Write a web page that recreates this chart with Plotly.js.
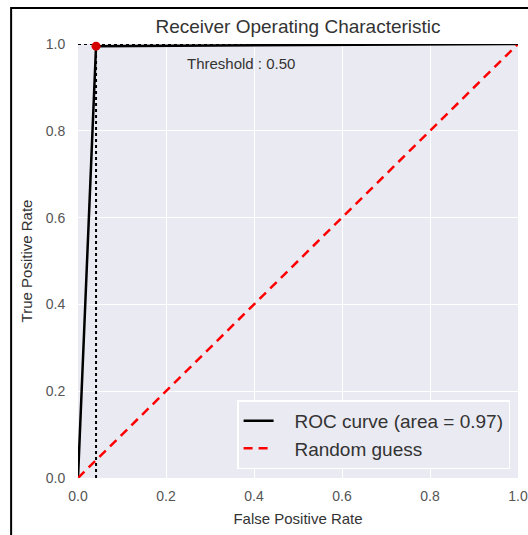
<!DOCTYPE html>
<html>
<head>
<meta charset="utf-8">
<script src="https://cdn.plot.ly/plotly-3.0.1.min.js"></script>
<style>html,body{margin:0;padding:0;background:#fff;}#chart{width:528px;height:535px;}</style>
</head>
<body>
<div id="chart"></div>
<script>
// ROC curve points
const fpr = [0.0, 0.041, 1.0];
const tpr = [0.0, 0.995, 1.0];
const rocArea = 0.97;
// Random guess diagonal
const guessX = [0.0, 1.0];
const guessY = [0.0, 1.0];
// Operating point at the chosen threshold
const threshold = 0.50;
const pointFpr = [0.041];
const pointTpr = [0.995];
const tickVals = [0.0, 0.2, 0.4, 0.6, 0.8, 1.0];

const font = "Liberation Sans, Arial, sans-serif";
const pad = '\u00a0\u00a0\u00a0';

const traces = [
  {x: fpr, y: tpr, mode: 'lines', name: pad + 'ROC curve (area = ' + rocArea.toFixed(2) + ')',
   line: {color: 'black', width: 2.5}, cliponaxis: false},
  {x: guessX, y: guessY, mode: 'lines', name: pad + 'Random guess',
   line: {color: 'red', width: 2.5, dash: '9px,6px'}, cliponaxis: false},
  {x: [pointFpr[0], pointFpr[0]], y: [0, 1], mode: 'lines', showlegend: false,
   line: {color: 'black', width: 2, dash: 'dot'}, cliponaxis: false},
  {x: [0, 1], y: [1, 1], mode: 'lines', showlegend: false,
   line: {color: 'black', width: 2, dash: 'dot'}, cliponaxis: false},
  {x: pointFpr, y: pointTpr, mode: 'markers', showlegend: false,
   marker: {color: '#d40000', size: 9}, cliponaxis: false}
];

const layout = {
  width: 528, height: 535,
  margin: {l: 78, r: 10, t: 44, b: 57},
  paper_bgcolor: 'white',
  plot_bgcolor: '#EAEAF2',
  font: {family: font, color: '#444'},
  title: {text: 'Receiver Operating Characteristic', font: {size: 19, color: '#333', family: font},
          x: 0.5, xref: 'paper', y: 0.951, yanchor: 'middle'},
  xaxis: {range: [0, 1], tickvals: tickVals, tickformat: '.1f', showgrid: true, gridcolor: 'white',
          gridwidth: 1, zeroline: false, showline: false, ticks: 'outside', ticklen: 5,
          tickcolor: 'rgba(0,0,0,0)',
          tickfont: {size: 14, color: '#555'},
          title: {text: 'False Positive Rate', font: {size: 15, color: '#333'}, standoff: 10}},
  yaxis: {range: [0, 1], tickvals: tickVals, tickformat: '.1f', showgrid: true, gridcolor: 'white',
          gridwidth: 1, zeroline: false, showline: false, ticks: 'outside', ticklen: 9,
          tickcolor: 'rgba(0,0,0,0)',
          tickfont: {size: 14, color: '#555'},
          title: {text: 'True Positive Rate', font: {size: 15, color: '#333'}, standoff: 9}},
  legend: {x: 0.982, y: 0.02, xanchor: 'right', yanchor: 'bottom',
           bgcolor: '#EAEAF2', bordercolor: 'white', borderwidth: 1.5,
           font: {size: 19, color: '#333', family: font}, tracegroupgap: 0},
  annotations: [{x: 0.37, y: 0.956, xref: 'x', yref: 'y', text: 'Threshold : ' + threshold.toFixed(2),
                 showarrow: false, font: {size: 15, color: '#333', family: font}}],
  shapes: [{type: 'rect', xref: 'paper', yref: 'paper', x0: -0.152, x1: 1.2, y0: -0.3, y1: 1.083,
            line: {color: 'black', width: 2}, layer: 'above'}]
};

Plotly.newPlot('chart', traces, layout, {displayModeBar: false, staticPlot: true});
</script>
</body>
</html>
